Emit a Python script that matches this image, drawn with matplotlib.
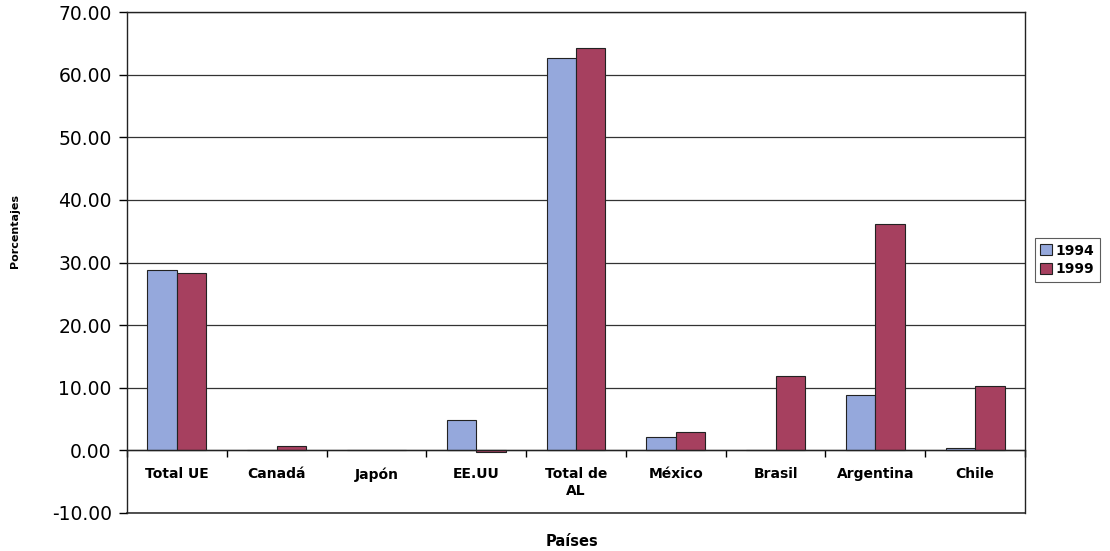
import numpy as np
import matplotlib.pyplot as plt

# Participación por país (%), 1994 y 1999
paises = ['Total UE', 'Canadá', 'Japón', 'EE.UU', 'Total de\nAL',
          'México', 'Brasil', 'Argentina', 'Chile']
v1994 = [28.8, 0.0, 0.05, 4.9, 62.6, 2.2, 0.1, 8.9, 0.3]
v1999 = [28.4, 0.7, 0.05, -0.3, 64.2, 3.0, 11.8, 36.2, 10.3]
yticks = [-10, 0, 10, 20, 30, 40, 50, 60, 70]

plt.rcParams['font.family'] = ['DejaVu Sans']

fig = plt.figure(figsize=(11.1, 5.51), dpi=100)
ax = fig.add_axes([0.1144, 0.069, 0.809, 0.909])

x = np.arange(len(paises))
w = 0.295
ax.bar(x - w / 2, v1994, w, color='#95a8dc', edgecolor='#222222',
       linewidth=0.8, label='1994', zorder=3)
ax.bar(x + w / 2, v1999, w, color='#a6405f', edgecolor='#222222',
       linewidth=0.8, label='1999', zorder=3)

ax.set_xlim(-0.5, len(paises) - 0.5)
ax.set_ylim(-10, 70)
ax.set_yticks(yticks)
ax.set_yticklabels([f'{t:.2f}' for t in yticks], fontsize=13.5)
ax.yaxis.grid(True, color='#333333', linewidth=0.9, zorder=0)
ax.axhline(-10, color='#333333', linewidth=1.2, clip_on=False, zorder=1)
ax.tick_params(axis='y', direction='out', length=6, width=1, pad=5)

# eje de categorías sobre el cero
ax.spines['bottom'].set_position(('data', 0))
ax.spines['bottom'].set_zorder(4)
ax.set_xticks(x)
ax.set_xticklabels(paises, fontsize=10, fontweight='bold', linespacing=1.3)
ax.set_xticks(np.arange(len(paises) + 1) - 0.5, minor=True)
ax.tick_params(axis='x', which='major', length=0, pad=12)
ax.tick_params(axis='x', which='minor', direction='out', length=5, width=1)
for s in ax.spines.values():
    s.set_color('#222222')
    s.set_linewidth(1)

fig.text(15 / 1110, 1 - 231 / 551, 'Porcentajes', fontsize=8,
         fontweight='bold', rotation=90, ha='center', va='center')
fig.text(572 / 1110, 1 - 541 / 551, 'Países', fontsize=10.5,
         fontweight='bold', ha='center', va='center')

leg = ax.legend(loc='center left', bbox_to_anchor=(1.008, 0.505),
                frameon=True, fancybox=False, edgecolor='#333333',
                prop={'weight': 'bold', 'size': 10},
                handlelength=0.8, handleheight=0.8, handletextpad=0.3,
                borderpad=0.4, borderaxespad=0.2, labelspacing=0.35)
leg.get_frame().set_linewidth(0.8)

fig.savefig('out.png', dpi=100)
